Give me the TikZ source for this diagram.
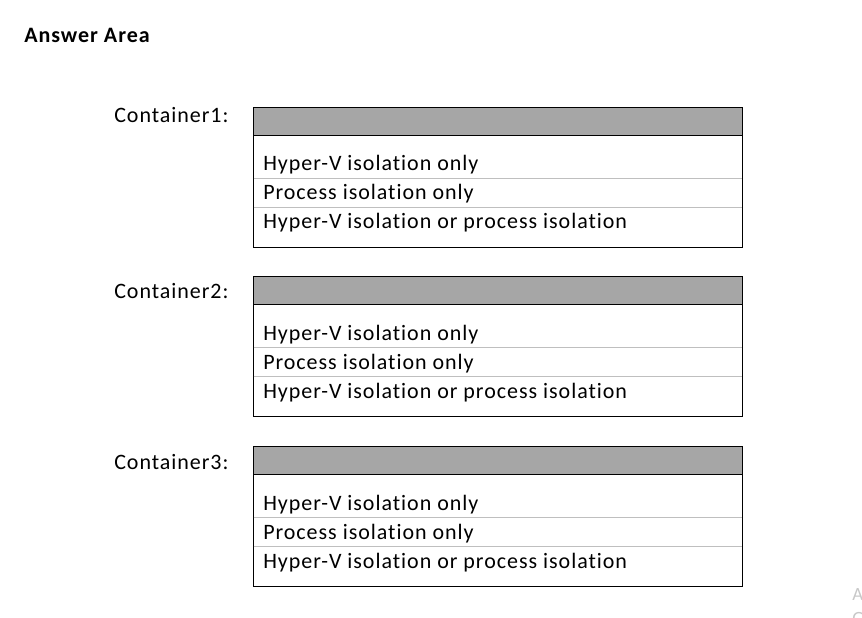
\documentclass[tikz,border=0pt]{standalone}
\usepackage{fontspec}
\setmainfont{Carlito}[LetterSpace=4.4,RawFeature=-liga]
\begin{document}
\begin{tikzpicture}[x=0.75pt,y=-0.75pt,
  lbl/.style={anchor=base west,inner sep=0pt,font=\fontsize{16.5}{19}\selectfont},
  opt/.style={anchor=base west,inner sep=0pt,font=\fontsize{16.5}{19}\selectfont},
  hdr/.style={fill=hdrgray,draw=black,line width=0.75pt},
  frame/.style={draw=black,line width=0.75pt},
  sep/.style={draw=sepgray,line width=0.75pt}]
\definecolor{hdrgray}{HTML}{A6A6A6}
\definecolor{sepgray}{HTML}{BFBFBF}
\definecolor{wmgray}{HTML}{C8C8C8}
\path[use as bounding box] (0,0) rectangle (862,617);
\clip (0,0) rectangle (862,617);
\fill[white] (0,0) rectangle (862,617);
\node[lbl,font=\bfseries\fontsize{16.5}{19}\selectfont] (title) at (24,43) {Answer Area};
\node[lbl] (c1) at (114,122.5) {Container1:};
\node[lbl] (c2) at (114,298.5) {Container2:};
\node[lbl] (c3) at (114,469.5) {Container3:};
\foreach \i/\dy in {1/0,2/169.5,3/339.5}{
  \begin{scope}[yshift=-\dy*0.75pt]
  \draw[frame] (253,107) rectangle (742,247);
  \draw[hdr] (253,107) rectangle (742,135);
  \draw[sep] (253.5,178) -- (741.5,178);
  \draw[sep] (253.5,207) -- (741.5,207);
  \node[opt] (a\i) at (263,170.5) {Hyper-V isolation only};
  \node[opt] (b\i) at (263,199.5) {Process isolation only};
  \node[opt] (d\i) at (263,228.5) {Hyper-V isolation or process isolation};
  \end{scope}
}
\node[anchor=base west,inner sep=0pt,text=wmgray,font=\fontsize{14}{17}\selectfont] (wa) at (852,600) {A};
\node[anchor=base west,inner sep=0pt,text=wmgray,font=\fontsize{14}{17}\selectfont] (wg) at (852,624) {G};
\end{tikzpicture}
\end{document}
